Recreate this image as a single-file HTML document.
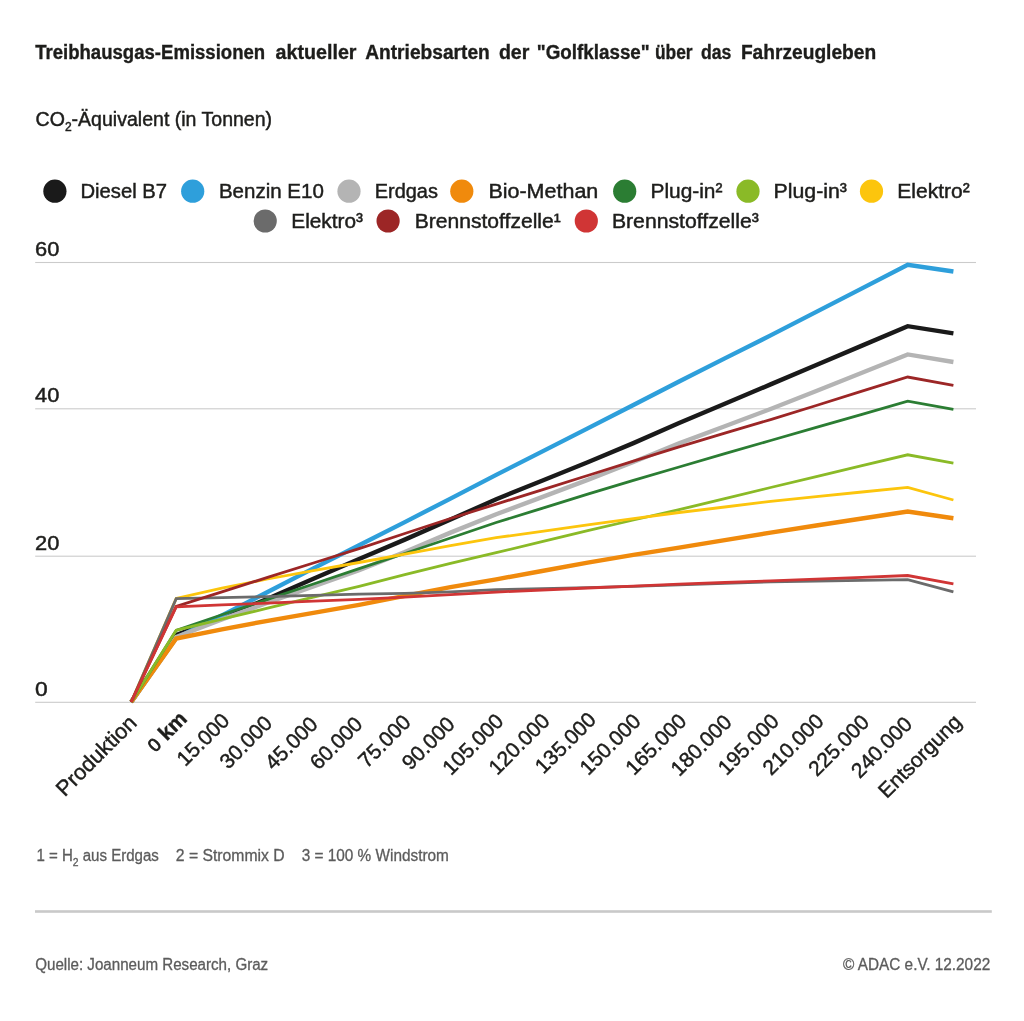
<!DOCTYPE html>
<html lang="de"><head><meta charset="utf-8"><title>Treibhausgas-Emissionen</title>
<style>
html,body{margin:0;padding:0;background:#fff;}
body{width:1024px;height:1021px;overflow:hidden;font-family:"Liberation Sans",sans-serif;}
svg{display:block;font-family:"Liberation Sans",sans-serif;will-change:transform;opacity:0.999;}
.r{stroke:#1d1d1b;stroke-width:0.45px;paint-order:stroke fill;}
.g{stroke:#5c5c5c;stroke-width:0.3px;}
.b{stroke:#1d1d1b;stroke-width:0.35px;}
</style></head><body>
<svg width="1024" height="1021" viewBox="0 0 1024 1021">
<rect width="1024" height="1021" fill="#ffffff"/>
<text class="b" x="35.2" y="59.4" font-size="19.6" font-weight="bold" fill="#1d1d1b" textLength="230.0" lengthAdjust="spacingAndGlyphs">Treibhausgas-Emissionen</text>
<text class="b" x="275.6" y="59.4" font-size="19.6" font-weight="bold" fill="#1d1d1b" textLength="80.9" lengthAdjust="spacingAndGlyphs">aktueller</text>
<text class="b" x="365.2" y="59.4" font-size="19.6" font-weight="bold" fill="#1d1d1b" textLength="124.6" lengthAdjust="spacingAndGlyphs">Antriebsarten</text>
<text class="b" x="498.9" y="59.4" font-size="19.6" font-weight="bold" fill="#1d1d1b" textLength="30.5" lengthAdjust="spacingAndGlyphs">der</text>
<text class="b" x="536.8" y="59.4" font-size="19.6" font-weight="bold" fill="#1d1d1b" textLength="112.9" lengthAdjust="spacingAndGlyphs">&quot;Golfklasse&quot;</text>
<text class="b" x="654.9" y="59.4" font-size="19.6" font-weight="bold" fill="#1d1d1b" textLength="37.7" lengthAdjust="spacingAndGlyphs">über</text>
<text class="b" x="700.9" y="59.4" font-size="19.6" font-weight="bold" fill="#1d1d1b" textLength="30.4" lengthAdjust="spacingAndGlyphs">das</text>
<text class="b" x="740.9" y="59.4" font-size="19.6" font-weight="bold" fill="#1d1d1b" textLength="135.3" lengthAdjust="spacingAndGlyphs">Fahrzeugleben</text>
<text class="r" x="35.6" y="126.0" font-size="19.5" fill="#1d1d1b" textLength="236.5" lengthAdjust="spacingAndGlyphs">CO<tspan font-size="12" dy="4.5">2</tspan><tspan dy="-4.5">-Äquivalent (in Tonnen)</tspan></text>
<circle cx="54.9" cy="191.2" r="11.6" fill="#1a1a1a"/>
<text class="r" x="80.5" y="198.2" font-size="20" fill="#1d1d1b" textLength="86.6" lengthAdjust="spacingAndGlyphs">Diesel B7</text>
<circle cx="192.7" cy="191.2" r="11.6" fill="#2e9fdb"/>
<text class="r" x="218.9" y="198.2" font-size="20" fill="#1d1d1b" textLength="104.9" lengthAdjust="spacingAndGlyphs">Benzin E10</text>
<circle cx="349.0" cy="191.2" r="11.6" fill="#b4b4b4"/>
<text class="r" x="374.8" y="198.2" font-size="20" fill="#1d1d1b" textLength="63.1" lengthAdjust="spacingAndGlyphs">Erdgas</text>
<circle cx="461.8" cy="191.2" r="11.6" fill="#f08a0c"/>
<text class="r" x="488.4" y="198.2" font-size="20" fill="#1d1d1b" textLength="109.9" lengthAdjust="spacingAndGlyphs">Bio-Methan</text>
<circle cx="624.7" cy="191.2" r="11.6" fill="#2b7d33"/>
<text class="r" x="650.5" y="198.2" font-size="20" fill="#1d1d1b" textLength="71.9" lengthAdjust="spacingAndGlyphs">Plug-in²</text>
<circle cx="748.0" cy="191.2" r="11.6" fill="#8aba27"/>
<text class="r" x="773.5" y="198.2" font-size="20" fill="#1d1d1b" textLength="73.4" lengthAdjust="spacingAndGlyphs">Plug-in³</text>
<circle cx="871.5" cy="191.2" r="11.6" fill="#fcc50d"/>
<text class="r" x="897.3" y="198.2" font-size="20" fill="#1d1d1b" textLength="72.4" lengthAdjust="spacingAndGlyphs">Elektro²</text>
<circle cx="265.2" cy="221.0" r="11.6" fill="#6b6b6b"/>
<text class="r" x="291.3" y="228.0" font-size="20" fill="#1d1d1b" textLength="71.7" lengthAdjust="spacingAndGlyphs">Elektro³</text>
<circle cx="388.1" cy="221.0" r="11.6" fill="#9c2626"/>
<text class="r" x="414.7" y="228.0" font-size="20" fill="#1d1d1b" textLength="146.1" lengthAdjust="spacingAndGlyphs">Brennstoffzelle¹</text>
<circle cx="586.3" cy="221.0" r="11.6" fill="#d03535"/>
<text class="r" x="611.9" y="228.0" font-size="20" fill="#1d1d1b" textLength="147.0" lengthAdjust="spacingAndGlyphs">Brennstoffzelle³</text>
<rect x="35.2" y="261.95" width="940.8" height="1.1" fill="#cbcbcb"/>
<text class="r" x="35.0" y="256.0" font-size="20" fill="#1d1d1b" textLength="24.3" lengthAdjust="spacingAndGlyphs">60</text>
<rect x="35.2" y="408.25" width="940.8" height="1.1" fill="#cbcbcb"/>
<text class="r" x="35.0" y="402.3" font-size="20" fill="#1d1d1b" textLength="24.3" lengthAdjust="spacingAndGlyphs">40</text>
<rect x="35.2" y="555.65" width="940.8" height="1.1" fill="#cbcbcb"/>
<text class="r" x="35.0" y="549.7" font-size="20" fill="#1d1d1b" textLength="24.3" lengthAdjust="spacingAndGlyphs">20</text>
<rect x="35.2" y="701.75" width="940.8" height="1.1" fill="#cbcbcb"/>
<text class="r" x="35.0" y="695.8" font-size="20" fill="#1d1d1b" textLength="12.7" lengthAdjust="spacingAndGlyphs">0</text>
<polyline points="131.2,702.0 176.2,635.0 221.9,617.6 267.6,598.7 313.4,578.8 359.1,558.9 404.8,539.6 450.5,519.6 496.2,499.2 542.0,480.7 587.7,462.3 633.4,443.1 679.1,423.1 724.8,403.7 770.6,384.4 816.3,365.0 862.0,345.6 907.7,326.2 953.4,333.4" fill="none" stroke="#1a1a1a" stroke-width="4.4" stroke-linejoin="miter" stroke-linecap="butt"/>
<polyline points="131.2,702.0 176.2,638.0 221.9,615.4 267.6,592.0 313.4,568.4 359.1,545.2 404.8,522.1 450.5,498.6 496.2,474.9 542.0,451.6 587.7,428.4 633.4,405.0 679.1,381.5 724.8,358.4 770.6,335.4 816.3,311.9 862.0,288.4 907.7,264.8 953.4,271.5" fill="none" stroke="#2e9fdb" stroke-width="4.4" stroke-linejoin="miter" stroke-linecap="butt"/>
<polyline points="131.2,702.0 176.2,637.0 221.9,619.4 267.6,602.7 313.4,586.5 359.1,570.2 404.8,552.0 450.5,532.6 496.2,514.3 542.0,497.1 587.7,479.9 633.4,462.0 679.1,443.4 724.8,426.2 770.6,409.0 816.3,391.0 862.0,372.7 907.7,354.4 953.4,362.0" fill="none" stroke="#b4b4b4" stroke-width="4.4" stroke-linejoin="miter" stroke-linecap="butt"/>
<polyline points="131.2,702.0 176.2,638.6 221.9,629.4 267.6,620.8 313.4,612.8 359.1,604.8 404.8,595.9 450.5,587.2 496.2,579.3 542.0,571.0 587.7,562.7 633.4,554.9 679.1,547.7 724.8,540.2 770.6,532.6 816.3,525.5 862.0,518.5 907.7,511.5 953.4,518.2" fill="none" stroke="#f08a0c" stroke-width="4.4" stroke-linejoin="miter" stroke-linecap="butt"/>
<polyline points="131.2,702.0 176.2,630.3 221.9,614.7 267.6,599.3 313.4,584.0 359.1,568.7 404.8,553.5 450.5,538.0 496.2,522.5 542.0,508.3 587.7,494.1 633.4,480.3 679.1,467.0 724.8,453.7 770.6,440.5 816.3,427.4 862.0,414.3 907.7,401.2 953.4,409.3" fill="none" stroke="#2b7d33" stroke-width="2.8" stroke-linejoin="miter" stroke-linecap="butt"/>
<polyline points="131.2,702.0 176.2,630.3 221.9,619.2 267.6,608.2 313.4,597.2 359.1,586.3 404.8,574.7 450.5,563.3 496.2,552.7 542.0,541.7 587.7,530.7 633.4,520.0 679.1,509.7 724.8,498.6 770.6,487.5 816.3,476.6 862.0,465.7 907.7,454.8 953.4,463.2" fill="none" stroke="#8aba27" stroke-width="2.8" stroke-linejoin="miter" stroke-linecap="butt"/>
<polyline points="131.2,702.0 176.2,598.5 221.9,588.1 267.6,579.0 313.4,570.7 359.1,562.5 404.8,554.1 450.5,545.6 496.2,537.7 542.0,531.3 587.7,524.9 633.4,518.7 679.1,512.5 724.8,507.0 770.6,501.4 816.3,496.6 862.0,492.0 907.7,487.3 953.4,500.0" fill="none" stroke="#fcc50d" stroke-width="2.8" stroke-linejoin="miter" stroke-linecap="butt"/>
<polyline points="131.2,702.0 176.2,598.7 221.9,597.7 267.6,596.6 313.4,595.4 359.1,594.2 404.8,593.4 450.5,591.8 496.2,589.6 542.0,588.6 587.7,587.7 633.4,586.4 679.1,584.8 724.8,583.4 770.6,581.9 816.3,581.0 862.0,580.3 907.7,579.6 953.4,591.9" fill="none" stroke="#6b6b6b" stroke-width="2.8" stroke-linejoin="miter" stroke-linecap="butt"/>
<polyline points="131.2,702.0 176.2,606.3 221.9,591.8 267.6,577.4 313.4,563.0 359.1,548.6 404.8,533.5 450.5,518.5 496.2,504.1 542.0,489.8 587.7,475.5 633.4,461.2 679.1,446.9 724.8,433.2 770.6,419.6 816.3,405.5 862.0,391.2 907.7,377.0 953.4,385.3" fill="none" stroke="#9c2626" stroke-width="2.8" stroke-linejoin="miter" stroke-linecap="butt"/>
<polyline points="131.2,702.0 176.2,606.8 221.9,604.9 267.6,603.1 313.4,601.2 359.1,599.3 404.8,597.2 450.5,594.7 496.2,592.1 542.0,590.0 587.7,588.0 633.4,586.1 679.1,584.2 724.8,582.5 770.6,580.8 816.3,579.1 862.0,577.3 907.7,575.5 953.4,583.8" fill="none" stroke="#d03535" stroke-width="2.8" stroke-linejoin="miter" stroke-linecap="butt"/>
<text class="r" transform="translate(138.0,724.1) rotate(-45)" text-anchor="end" font-size="21.7" fill="#1d1d1b">Produktion</text>
<text class="r" transform="translate(188.1,720.0) rotate(-45)" text-anchor="end" font-size="21" fill="#1d1d1b"><tspan font-size="18.5" style="stroke-width:0.8px">0</tspan> <tspan font-weight="bold">km</tspan></text>
<text class="r" transform="translate(230.7,721.9) rotate(-45)" text-anchor="end" font-size="21" fill="#1d1d1b">15.000</text>
<text class="r" transform="translate(273.6,724.5) rotate(-45)" text-anchor="end" font-size="21" fill="#1d1d1b">30.000</text>
<text class="r" transform="translate(319.0,725.5) rotate(-45)" text-anchor="end" font-size="21" fill="#1d1d1b">45.000</text>
<text class="r" transform="translate(363.8,725.4) rotate(-45)" text-anchor="end" font-size="21" fill="#1d1d1b">60.000</text>
<text class="r" transform="translate(412.1,723.5) rotate(-45)" text-anchor="end" font-size="21" fill="#1d1d1b">75.000</text>
<text class="r" transform="translate(456.0,725.6) rotate(-45)" text-anchor="end" font-size="21" fill="#1d1d1b">90.000</text>
<text class="r" transform="translate(504.8,722.5) rotate(-45)" text-anchor="end" font-size="21" fill="#1d1d1b">105.000</text>
<text class="r" transform="translate(551.0,722.2) rotate(-45)" text-anchor="end" font-size="21" fill="#1d1d1b">120.000</text>
<text class="r" transform="translate(597.3,721.1) rotate(-45)" text-anchor="end" font-size="21" fill="#1d1d1b">135.000</text>
<text class="r" transform="translate(642.0,722.5) rotate(-45)" text-anchor="end" font-size="21" fill="#1d1d1b">150.000</text>
<text class="r" transform="translate(687.7,722.5) rotate(-45)" text-anchor="end" font-size="21" fill="#1d1d1b">165.000</text>
<text class="r" transform="translate(732.9,723.5) rotate(-45)" text-anchor="end" font-size="21" fill="#1d1d1b">180.000</text>
<text class="r" transform="translate(780.2,722.5) rotate(-45)" text-anchor="end" font-size="21" fill="#1d1d1b">195.000</text>
<text class="r" transform="translate(824.9,722.5) rotate(-45)" text-anchor="end" font-size="21" fill="#1d1d1b">210.000</text>
<text class="r" transform="translate(870.6,723.5) rotate(-45)" text-anchor="end" font-size="21" fill="#1d1d1b">225.000</text>
<text class="r" transform="translate(913.4,725.5) rotate(-45)" text-anchor="end" font-size="21" fill="#1d1d1b">240.000</text>
<text class="r" transform="translate(962.8,723.3) rotate(-45)" text-anchor="end" font-size="21" fill="#1d1d1b">Entsorgung</text>
<text class="g" x="36.4" y="861.0" font-size="16" fill="#5c5c5c" textLength="122.5" lengthAdjust="spacingAndGlyphs">1 = H<tspan font-size="11" dy="4.6">2</tspan><tspan dy="-4.6"> aus Erdgas</tspan></text>
<text class="g" x="175.8" y="861.0" font-size="16" fill="#5c5c5c" textLength="108.8" lengthAdjust="spacingAndGlyphs">2 = Strommix D</text>
<text class="g" x="301.7" y="861.0" font-size="16" fill="#5c5c5c" textLength="147.2" lengthAdjust="spacingAndGlyphs">3 = 100 % Windstrom</text>
<rect x="35" y="910.2" width="956.8" height="2.6" fill="#c9c9c9"/>
<text class="g" x="35.2" y="970.0" font-size="16" fill="#5c5c5c" textLength="233" lengthAdjust="spacingAndGlyphs">Quelle: Joanneum Research, Graz</text>
<text class="g" x="843" y="970.0" font-size="16" fill="#5c5c5c" textLength="147.2" lengthAdjust="spacingAndGlyphs">© ADAC e.V. 12.2022</text>
</svg>
</body></html>
